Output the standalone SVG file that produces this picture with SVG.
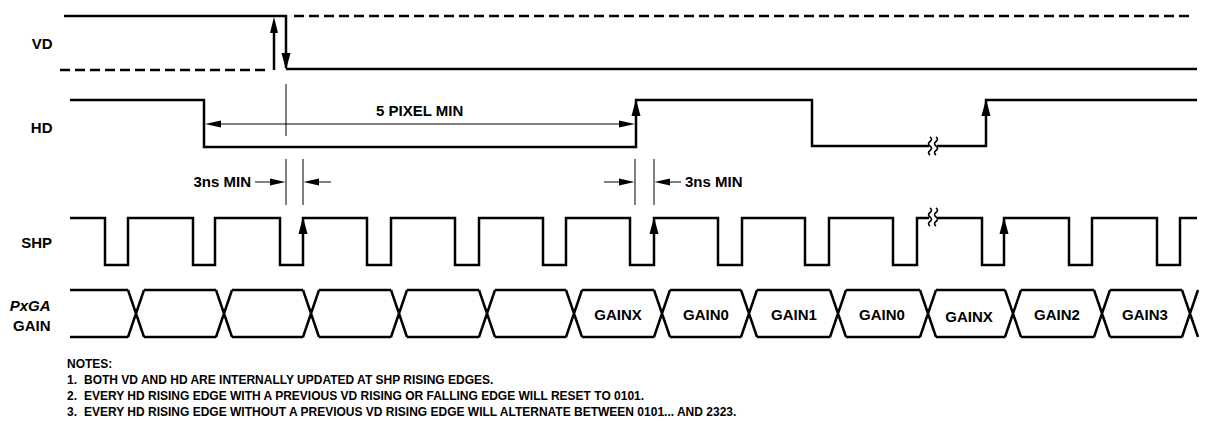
<svg xmlns="http://www.w3.org/2000/svg" width="1205" height="424" viewBox="0 0 1205 424">
<style>
.sig{fill:none;stroke:#000;stroke-width:2.5;stroke-linejoin:miter;stroke-linecap:butt}
.dash{fill:none;stroke:#000;stroke-width:2.5;stroke-dasharray:10 5}
.dim{fill:none;stroke:#000;stroke-width:1}
.brk{fill:none;stroke:#000;stroke-width:1.6}
.ah{fill:#000;stroke:none}
.lbl{font-family:"Liberation Sans",Arial,sans-serif;font-weight:bold;font-size:15px;fill:#000}
.cen{text-anchor:middle}
.end{text-anchor:end}
.note{font-family:"Liberation Sans",Arial,sans-serif;font-weight:bold;font-size:12px;fill:#000}
</style>
<defs>
<path id="brk" d="M-3,-9 q3,2.25 0,4.5 t0,4.5 t0,4.5 t0,4.5 M3,-9 q3,2.25 0,4.5 t0,4.5 t0,4.5 t0,4.5"/>
</defs>
<rect width="1205" height="424" fill="#fff"/>

<g id="vd">
<text class="lbl end" x="52.5" y="49">VD</text>
<path class="sig" d="M64,16 H286 V68 M286,69 H1197"/>
<path class="dash" d="M294,16 H1190"/>
<path class="dash" d="M60,70 H270"/>
<path class="sig" d="M274,70 V30"/>
<polygon class="ah" points="270,33 278,33 274,17"/>
<polygon class="ah" points="281.5,53 290.5,53 286,70"/>
</g>

<g id="hd">
<text class="lbl end" x="52.5" y="133">HD</text>
<path class="sig" d="M70,100 H204 V147 H636 V100 H812 V146 H929 M937,146 H986 V100 H1197"/>
<polygon class="ah" points="631.5,116 640.5,116 636,99"/>
<polygon class="ah" points="981.5,116 990.5,116 986,99"/>
<use href="#brk" class="brk" x="933" y="146"/>
</g>

<g id="shp">
<text class="lbl end" x="52" y="248">SHP</text>
<path class="sig" d="M70,218 H105 V265 H128 V218 H193 V265 H215 V218 H280 V265 H303 V218 H367 V265 H391 V218 H455 V265 H479 V218 H543 V265 H566 V218 H630 V265 H654 V218 H718 V265 H742 V218 H805 V265 H829 V218 H893 V265 H917 V218 H929 M937,218 H982 V265 H1004 V218 H1069 V265 H1092 V218 H1157 V265 H1180 V218 H1197"/>
<polygon class="ah" points="298.5,234 307.5,234 303,217"/>
<polygon class="ah" points="649.5,234 658.5,234 654,217"/>
<polygon class="ah" points="999.5,234 1008.5,234 1004,217"/>
<use href="#brk" class="brk" x="933" y="217"/>
</g>

<g id="pxga">
<text class="lbl end" x="50.5" y="311" font-style="italic">PxGA</text>
<text class="lbl end" x="50.5" y="331">GAIN</text>
<path class="sig" d="M70,290 H128 M144,290 H216 M232,290 H303 M319,290 H391 M407,290 H479 M495,290 H566 M582,290 H654 M670,290 H741 M757,290 H830 M846,290 H920 M936,290 H1005 M1021,290 H1094 M1110,290 H1182
M70,337 H128 M144,337 H216 M232,337 H303 M319,337 H391 M407,337 H479 M495,337 H566 M582,337 H654 M670,337 H741 M757,337 H830 M846,337 H920 M936,337 H1005 M1021,337 H1094 M1110,337 H1182
M128,290L144,337M128,337L144,290
M216,290L232,337M216,337L232,290
M303,290L319,337M303,337L319,290
M391,290L407,337M391,337L407,290
M479,290L495,337M479,337L495,290
M566,290L582,337M566,337L582,290
M654,290L670,337M654,337L670,290
M741,290L757,337M741,337L757,290
M830,290L846,337M830,337L846,290
M920,290L936,337M920,337L936,290
M1005,290L1021,337M1005,337L1021,290
M1094,290L1110,337M1094,337L1110,290
M1182,290L1198,337M1182,337L1198,290"/>
<text class="lbl cen" x="618" y="320">GAINX</text>
<text class="lbl cen" x="706" y="320">GAIN0</text>
<text class="lbl cen" x="794" y="320">GAIN1</text>
<text class="lbl cen" x="882" y="320">GAIN0</text>
<text class="lbl cen" x="969" y="322">GAINX</text>
<text class="lbl cen" x="1057" y="320">GAIN2</text>
<text class="lbl cen" x="1145" y="320">GAIN3</text>
</g>

<g id="connectors">
<path class="dim" d="M286,84 V136"/>
<path class="dim" d="M212,124 H628"/>
<polygon class="ah" points="205,124 221,120.5 221,127.5"/>
<polygon class="ah" points="635,124 619,120.5 619,127.5"/>
<text class="lbl" x="376" y="116">5 PIXEL MIN</text>

<path class="dim" d="M286,159 V205 M303,159 V205 M255,182 H278 M331,182 H310"/>
<polygon class="ah" points="285.5,182 270,178.5 270,185.5"/>
<polygon class="ah" points="303.5,182 319,178.5 319,185.5"/>
<text class="lbl end" x="251" y="187">3ns MIN</text>

<path class="dim" d="M635,159 V205 M654,159 V205 M604,182 H627 M681,182 H661"/>
<polygon class="ah" points="634.5,182 619,178.5 619,185.5"/>
<polygon class="ah" points="654.5,182 670,178.5 670,185.5"/>
<text class="lbl" x="685" y="187">3ns MIN</text>
</g>

<g id="notes">
<text class="note" x="67" y="368">NOTES:</text>
<text class="note" x="67" y="384">1.<tspan x="84">BOTH VD AND HD ARE INTERNALLY UPDATED AT SHP RISING EDGES.</tspan></text>
<text class="note" x="67" y="400">2.<tspan x="84">EVERY HD RISING EDGE WITH A PREVIOUS VD RISING OR FALLING EDGE WILL RESET TO 0101.</tspan></text>
<text class="note" x="67" y="416">3.<tspan x="84">EVERY HD RISING EDGE WITHOUT A PREVIOUS VD RISING EDGE WILL ALTERNATE BETWEEN 0101... AND 2323.</tspan></text>
</g>
</svg>
